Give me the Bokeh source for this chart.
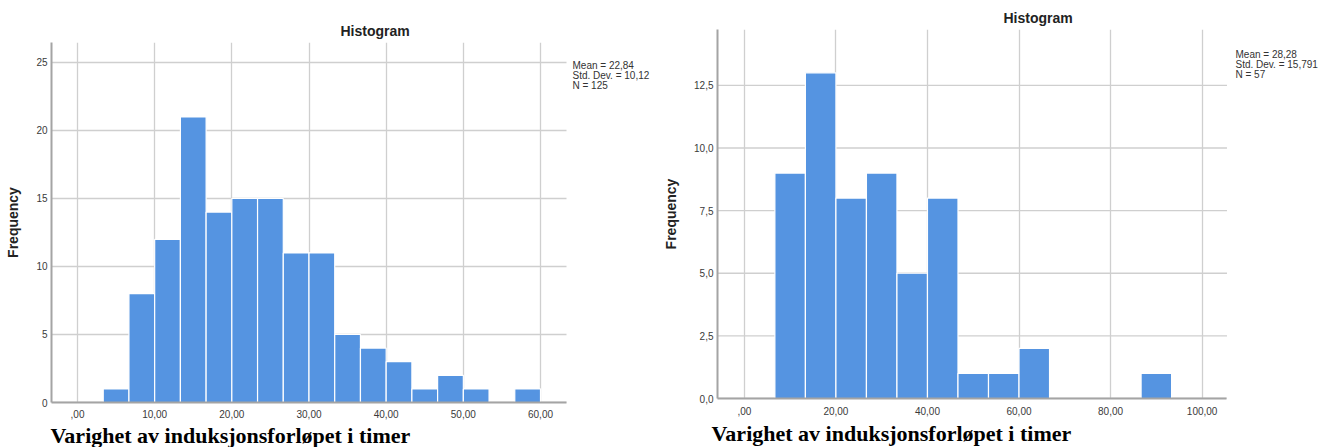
from bokeh.plotting import figure
from bokeh.layouts import row
from bokeh.models import Label, FixedTicker, Range1d, Title
from bokeh.embed import file_html
from bokeh.resources import INLINE

# ---- data ----
left_counts = [1, 8, 12, 21, 14, 15, 15, 11, 11, 5, 4, 3, 1, 2, 1, 0, 1]
left_bin_start = 10 / 3
left_bin_width = 10 / 3
left_xticks = [0, 10, 20, 30, 40, 50, 60]
left_xtick_labels = [",00", "10,00", "20,00", "30,00", "40,00", "50,00", "60,00"]
left_yticks = [0, 5, 10, 15, 20, 25]
left_ytick_labels = ["0", "5", "10", "15", "20", "25"]
left_stats = ["Mean = 22,84", "Std. Dev. = 10,12", "N = 125"]

right_counts = [9, 13, 8, 9, 5, 8, 1, 1, 2, 0, 0, 0, 1]
right_bin_start = 20 / 3
right_bin_width = 20 / 3
right_xticks = [0, 20, 40, 60, 80, 100]
right_xtick_labels = [",00", "20,00", "40,00", "60,00", "80,00", "100,00"]
right_yticks = [0, 2.5, 5, 7.5, 10, 12.5]
right_ytick_labels = ["0,0", "2,5", "5,0", "7,5", "10,0", "12,5"]
right_stats = ["Mean = 28,28", "Std. Dev. = 15,791", "N = 57"]

title_text = "Histogram"
ylabel_text = "Frequency"
xlabel_text = "Varighet av induksjonsforløpet i timer"

BAR = "#5594e1"
GRID = "#cfcfcf"
AXIS = "#a4a4a4"
TICK_TXT = "#3a3a3a"
SANS = "Liberation Sans"
SERIF = "Liberation Serif"


def make_hist(counts, start, width, xticks, xlabels, yticks, ylabels, stats,
              fig_w, fig_h, mb_l, mb_t, mb_b, xr, x_axis_end, yr,
              title_offset, stats_pos, stats_step, xlab_offset, xlab_standoff,
              xtick_standoff):
    p = figure(width=fig_w, height=fig_h, output_backend="svg",
               toolbar_location=None, tools="",
               x_range=Range1d(*xr), y_range=Range1d(*yr),
               min_border_left=mb_l, min_border_right=0,
               min_border_top=mb_t, min_border_bottom=mb_b)
    p.frame_align = False
    p.outline_line_color = None
    p.background_fill_color = "white"
    p.border_fill_color = "white"

    # horizontal gridlines limited to the axis extent
    p.ygrid.grid_line_color = None
    p.segment(x0=[xr[0]] * len(yticks), x1=[x_axis_end] * len(yticks),
              y0=yticks, y1=yticks, line_color=GRID, line_width=1.3)

    lefts = [start + i * width for i in range(len(counts))]
    rights = [l + width for l in lefts]
    p.quad(left=lefts, right=rights, top=counts, bottom=0,
           fill_color=BAR, line_color="white", line_width=1.2)

    for ax, ticks, labels in ((p.xaxis[0], xticks, xlabels), (p.yaxis[0], yticks, ylabels)):
        ax.ticker = FixedTicker(ticks=ticks)
        ax.major_label_overrides = {t: s for t, s in zip(ticks, labels)}
        ax.major_tick_line_color = None
        ax.minor_tick_line_color = None
        ax.major_tick_out = 0
        ax.major_tick_in = 0
        ax.minor_tick_out = 0
        ax.minor_tick_in = 0
        ax.axis_line_color = AXIS
        ax.axis_line_width = 2
        ax.major_label_text_font = SANS
        ax.major_label_text_font_size = "10px"
        ax.major_label_text_color = TICK_TXT
    p.xaxis.major_label_standoff = xtick_standoff
    p.yaxis.major_label_standoff = 4
    p.xaxis.bounds = (xr[0], x_axis_end)
    p.yaxis.major_label_orientation = "horizontal"

    p.yaxis.axis_label = ylabel_text
    p.yaxis.axis_label_text_font = SANS
    p.yaxis.axis_label_text_font_size = "14px"
    p.yaxis.axis_label_text_font_style = "bold"
    p.yaxis.axis_label_text_color = "#222222"
    p.yaxis.axis_label_standoff = 12

    p.xgrid.grid_line_color = GRID
    p.xgrid.grid_line_width = 1.3

    p.title.text = title_text
    p.title.align = "left"
    p.title.offset = title_offset
    p.title.text_font = SANS
    p.title.text_font_size = "14px"
    p.title.text_font_style = "bold"
    p.title.text_color = "#222222"
    p.title.standoff = 7

    p.add_layout(Title(text=xlabel_text, align="left", offset=xlab_offset,
                       text_font=SERIF, text_font_size="22px", text_font_style="bold",
                       text_color="#000000", standoff=xlab_standoff), "below")

    for i, s in enumerate(stats):
        p.add_layout(Label(x=stats_pos[0], y=stats_pos[1] - i * stats_step,
                           x_units="screen", y_units="screen",
                           text=s, text_font=SANS, text_font_size="10px",
                           text_color="#333333", text_align="left",
                           text_baseline="middle"))
    return p


p1 = make_hist(left_counts, left_bin_start, left_bin_width,
               left_xticks, left_xtick_labels, left_yticks, left_ytick_labels, left_stats,
               660, 447, 51, 42, 45, (-3.37, 75.55), 63.37, (0, 26.47),
               title_offset=289, stats_pos=(521, 337), stats_step=10,
               xlab_offset=-1, xlab_standoff=0, xtick_standoff=7)

p2 = make_hist(right_counts, right_bin_start, right_bin_width,
               right_xticks, right_xtick_labels, right_yticks, right_ytick_labels, right_stats,
               667, 447, 54, 29, 48, (-5.87, 127.39), 105.43, (0, 14.73),
               title_offset=286, stats_pos=(518, 344), stats_step=10,
               xlab_offset=-6, xlab_standoff=3, xtick_standoff=8)

layout = row(p1, p2)
open("out.html", "w").write(file_html(layout, INLINE))
